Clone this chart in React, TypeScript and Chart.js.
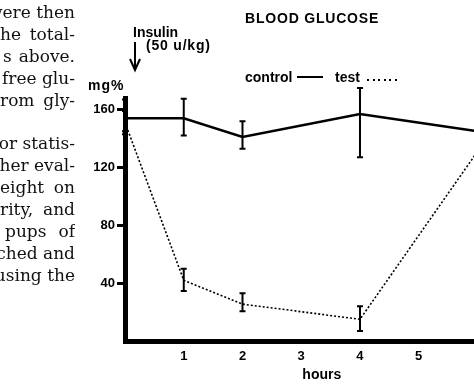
import React, { useEffect, useLayoutEffect, useRef } from "react";
import { Chart, registerables } from "chart.js";

Chart.register(...registerables);

// ---- data ----
const hours = [0, 1, 2, 4, 6];
const controlMean = [154, 154, 141, 157, 145];
const controlErrUp = [13, 13.5, 11, 18, 0];
const controlErrDown = [9, 12, 8, 30, 0];
const testMean = [151, 42, 25.5, 15, 131];
const testErrUp = [8, 8, 7.5, 9, 0];
const testErrDown = [8, 7.5, 5, 8, 0];
const yTicks = [40, 80, 120, 160];
const xTicks = [1, 2, 3, 4, 5, 6];
const sideLines = [
  "were then",
  "he total-",
  "s above.",
  "free glu-",
  "rom gly-",
  "",
  "or statis-",
  "her eval-",
  "eight on",
  "rity, and",
  "pups of",
  "ched and",
  "using the",
];
const sideLineStart = [0, 0, 3, 3, 0, 0, 0, 0, 0, 0, 5, 0, 0];

const SANS = "'Liberation Sans', Arial, sans-serif";
const SERIF = "'DejaVu Serif', serif";
const SIDE_RIGHT = 75;

const errorBars = {
  id: "errorBars",
  afterDatasetsDraw(chart: any) {
    const ctx = chart.ctx;
    const xs = chart.scales.x;
    const ys = chart.scales.y;
    chart.data.datasets.forEach((ds: any) => {
      ds.data.forEach((p: any, i: number) => {
        const up = ds.errUp[i];
        const dn = ds.errDown[i];
        if (!up && !dn) return;
        const x = xs.getPixelForValue(p.x);
        const y1 = ys.getPixelForValue(p.y + up);
        const y2 = ys.getPixelForValue(p.y - dn);
        ctx.save();
        ctx.strokeStyle = "#000";
        ctx.lineWidth = 2;
        ctx.setLineDash([]);
        ctx.beginPath();
        ctx.moveTo(x, y1);
        ctx.lineTo(x, y2);
        ctx.moveTo(x - 3, y1);
        ctx.lineTo(x + 3, y1);
        ctx.moveTo(x - 3, y2);
        ctx.lineTo(x + 3, y2);
        ctx.stroke();
        ctx.restore();
      });
    });
  },
};

export default function App() {
  const ref = useRef<HTMLCanvasElement | null>(null);
  const spanRefs = useRef<(HTMLSpanElement | null)[]>([]);

  useLayoutEffect(() => {
    const justify = () => {
      spanRefs.current.forEach((el, i) => {
        if (!el) return;
        el.style.wordSpacing = "0px";
        const w = el.getBoundingClientRect().width;
        const n = (sideLines[i].match(/ /g) || []).length;
        const target = SIDE_RIGHT - sideLineStart[i];
        if (n > 0 && w < target) {
          el.style.wordSpacing = (target - w) / n + "px";
        }
      });
    };
    justify();
    if ((document as any).fonts && (document as any).fonts.ready) {
      (document as any).fonts.ready.then(justify);
    }
  }, []);

  useEffect(() => {
    if (!ref.current) return;
    const chart = new Chart(ref.current, {
      type: "line",
      data: {
        datasets: [
          {
            label: "control",
            data: hours.map((h, i) => ({ x: h, y: controlMean[i] })),
            borderColor: "#000",
            borderWidth: 2.5,
            pointRadius: 0,
            fill: false,
            tension: 0,
            clip: false,
            errUp: controlErrUp,
            errDown: controlErrDown,
          } as any,
          {
            label: "test",
            data: hours.map((h, i) => ({ x: h, y: testMean[i] })),
            borderColor: "#000",
            borderWidth: 1.6,
            borderDash: [2, 2],
            pointRadius: 0,
            fill: false,
            tension: 0,
            clip: false,
            errUp: testErrUp,
            errDown: testErrDown,
          } as any,
        ],
      },
      options: {
        animation: false,
        responsive: false,
        maintainAspectRatio: false,
        layout: { padding: { left: 0, top: 98, right: 11.4, bottom: 0 } },
        plugins: {
          legend: { display: false },
          tooltip: { enabled: false },
          title: { display: false },
        },
        scales: {
          x: {
            type: "linear",
            min: 0,
            max: 6.7,
            afterBuildTicks: (s: any) => {
              s.ticks = xTicks.map((v) => ({ value: v }));
            },
            afterFit: (s: any) => {
              s.height = 45;
            },
            grid: { display: false, drawTicks: false },
            border: { display: true, color: "#000", width: 5 },
            ticks: {
              color: "#000",
              padding: 8,
              font: { family: SANS, size: 13, weight: "bold" },
            },
            title: {
              display: true,
              text: "hours",
              color: "#000",
              font: { family: SANS, size: 14, weight: "bold" },
              padding: { top: 0, bottom: 2 },
            },
          },
          y: {
            type: "linear",
            min: 0,
            max: 168,
            afterBuildTicks: (s: any) => {
              s.ticks = yTicks.map((v) => ({ value: v }));
            },
            afterFit: (s: any) => {
              s.width = 125;
            },
            grid: {
              display: true,
              drawOnChartArea: false,
              drawTicks: true,
              tickLength: 8,
              tickWidth: 3,
              tickColor: "#000",
            },
            border: { display: true, color: "#000", width: 5 },
            ticks: {
              color: "#000",
              padding: 2,
              font: { family: SANS, size: 13, weight: "bold" },
            },
          },
        },
      } as any,
      plugins: [errorBars],
    });
    return () => chart.destroy();
  }, []);

  const txt: React.CSSProperties = {
    position: "absolute",
    fontFamily: SANS,
    fontWeight: "bold",
    fontSize: 14,
    lineHeight: "14px",
    color: "#000",
    whiteSpace: "nowrap",
  };

  return (
    <div
      style={{
        position: "fixed",
        left: 0,
        top: 0,
        width: 474,
        height: 386,
        overflow: "hidden",
        background: "#fff",
      }}
    >
      <canvas
        ref={ref}
        width={530}
        height={386}
        style={{ position: "absolute", left: 0, top: 0, width: 530, height: 386 }}
      />
      {sideLines.map((t, i) => (
        <div
          key={i}
          style={{
            position: "absolute",
            left: 0,
            top: 1 + i * 21.9,
            width: SIDE_RIGHT,
            height: 22,
            overflow: "hidden",
            display: "flex",
            justifyContent: "flex-end",
          }}
        >
          <span
            ref={(el) => {
              spanRefs.current[i] = el;
            }}
            style={{
              flexShrink: 0,
              display: "block",
              fontFamily: SERIF,
              fontSize: 17,
              lineHeight: "22px",
              whiteSpace: "nowrap",
              color: "#111",
            }}
          >
            {t}
          </span>
        </div>
      ))}
      <div style={{ ...txt, left: 245, top: 10.5, letterSpacing: 0.8 }}>BLOOD GLUCOSE</div>
      <div style={{ ...txt, left: 133, top: 25 }}>Insulin</div>
      <div style={{ ...txt, left: 146, top: 38, letterSpacing: 0.8 }}>(50 u/kg)</div>
      <div style={{ ...txt, left: 88, top: 78, letterSpacing: 1 }}>mg%</div>
      <div style={{ ...txt, left: 245, top: 70 }}>control</div>
      <div
        style={{ position: "absolute", left: 297, top: 76, width: 26, height: 2, background: "#000" }}
      />
      <div style={{ ...txt, left: 335, top: 70 }}>test</div>
      <div
        style={{
          position: "absolute",
          left: 367,
          top: 79,
          width: 33,
          height: 2,
          background: "repeating-linear-gradient(90deg, #000 0 2px, transparent 2px 5.5px)",
        }}
      />
      <svg
        width={20}
        height={40}
        style={{ position: "absolute", left: 125, top: 38 }}
      >
        <path d="M10 4 L10 32" stroke="#000" strokeWidth={2} fill="none" />
        <path d="M5 21 L10 32 L15 21" stroke="#000" strokeWidth={2} fill="none" />
      </svg>
    </div>
  );
}
